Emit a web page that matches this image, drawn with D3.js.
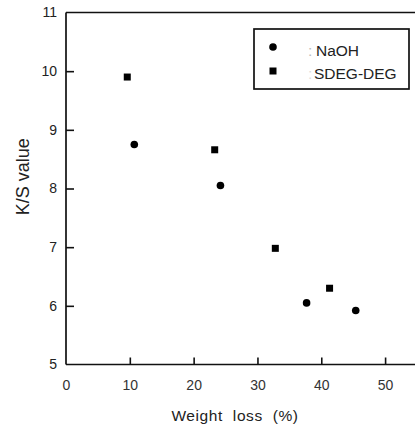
<!DOCTYPE html>
<html>
<head>
<meta charset="utf-8">
<script src="https://cdn.jsdelivr.net/npm/d3@7"></script>
<style>
  html, body { margin: 0; padding: 0; background: #fff; }
  svg { display: block; font-family: "Liberation Sans", Arial, sans-serif; }
</style>
</head>
<body>
<svg id="chart" width="415" height="427"></svg>
<script>
// Weight loss (%) vs K/S value for two treatments
const naohX = [10.7, 24.2, 37.7, 45.4];
const naohY = [8.75, 8.05, 6.05, 5.92];
const sdegX = [9.6, 23.3, 32.8, 41.3];
const sdegY = [9.9, 8.66, 6.98, 6.30];
const xTicks = [0, 10, 20, 30, 40, 50];
const yTicks = [5, 6, 7, 8, 9, 10, 11];
const seriesNames = ["NaOH", "SDEG-DEG"];

const FONT = "Liberation Sans, Arial, sans-serif";
const svg = d3.select("#chart");
const x = d3.scaleLinear().domain([0, 55]).range([66, 417]);
const y = d3.scaleLinear().domain([5, 11]).range([364.5, 12.5]);

// frame: left axis, bottom axis, top border
const frame = svg.append("g").attr("stroke", "#111").attr("stroke-width", 1.7).attr("fill", "none");
frame.append("line").attr("x1", x(0)).attr("x2", x(0)).attr("y1", y(11)).attr("y2", y(5));
frame.append("line").attr("x1", x(0)).attr("x2", 415).attr("y1", y(5)).attr("y2", y(5));
frame.append("line").attr("x1", x(0)).attr("x2", 415).attr("y1", y(11)).attr("y2", y(11));

// y axis: inward ticks
const yAxis = svg.append("g")
  .attr("transform", `translate(${x(0)},0)`)
  .call(d3.axisLeft(y).tickValues(yTicks).tickFormat(d3.format("d"))
    .tickSizeInner(-8).tickSizeOuter(0).tickPadding(9));
yAxis.select(".domain").remove();
yAxis.selectAll(".tick line").attr("stroke", "#111").attr("stroke-width", 1.6)
  .filter(d => d === 5 || d === 11).remove();
yAxis.selectAll(".tick text").attr("font-size", 14).attr("fill", "#222").attr("font-family", FONT);

// x axis: inward ticks
const xAxis = svg.append("g")
  .attr("transform", `translate(0,${y(5)})`)
  .call(d3.axisBottom(x).tickValues(xTicks).tickFormat(d3.format("d"))
    .tickSizeInner(-7).tickSizeOuter(0).tickPadding(16));
xAxis.select(".domain").remove();
xAxis.selectAll(".tick line").attr("stroke", "#111").attr("stroke-width", 1.6)
  .filter(d => d === 0).remove();
xAxis.selectAll(".tick text").attr("font-size", 14).attr("fill", "#333").attr("font-family", FONT);

// axis titles
svg.append("text").attr("x", 235).attr("y", 421).attr("text-anchor", "middle")
  .attr("font-size", 15.5).attr("fill", "#222").attr("letter-spacing", 0.6)
  .attr("word-spacing", 5).text("Weight loss (%)");
svg.append("text").attr("transform", `translate(29,${y(8.2)}) rotate(-90)`)
  .attr("text-anchor", "middle").attr("font-size", 18).attr("fill", "#222")
  .text("K/S value");

// points
svg.append("g").selectAll("circle").data(naohX.map((d, i) => [d, naohY[i]]))
  .join("circle").attr("cx", d => x(d[0])).attr("cy", d => y(d[1])).attr("r", 3.8).attr("fill", "#000");
const sq = 7;
svg.append("g").selectAll("rect").data(sdegX.map((d, i) => [d, sdegY[i]]))
  .join("rect").attr("x", d => x(d[0]) - sq / 2).attr("y", d => y(d[1]) - sq / 2)
  .attr("width", sq).attr("height", sq).attr("fill", "#000");

// legend
const lg = svg.append("g");
lg.append("rect").attr("x", 254).attr("y", 29).attr("width", 155).attr("height", 60)
  .attr("fill", "#fff").attr("stroke", "#111").attr("stroke-width", 1.7);
lg.append("circle").attr("cx", 273).attr("cy", 47).attr("r", 3.8).attr("fill", "#000");
lg.append("rect").attr("x", 269.5).attr("y", 67.5).attr("width", sq).attr("height", sq).attr("fill", "#000");
lg.append("text").attr("x", 308).attr("y", 56).attr("font-size", 15.5).attr("fill", "#bbb").text(":");
lg.append("text").attr("x", 308).attr("y", 79).attr("font-size", 15.5).attr("fill", "#ddd").text(":");
lg.append("text").attr("x", 316).attr("y", 56).attr("font-size", 15.5).attr("fill", "#222")
  .text(seriesNames[0]);
lg.append("text").attr("x", 314).attr("y", 79).attr("font-size", 15.5).attr("fill", "#222")
  .text(seriesNames[1]);
</script>
</body>
</html>
